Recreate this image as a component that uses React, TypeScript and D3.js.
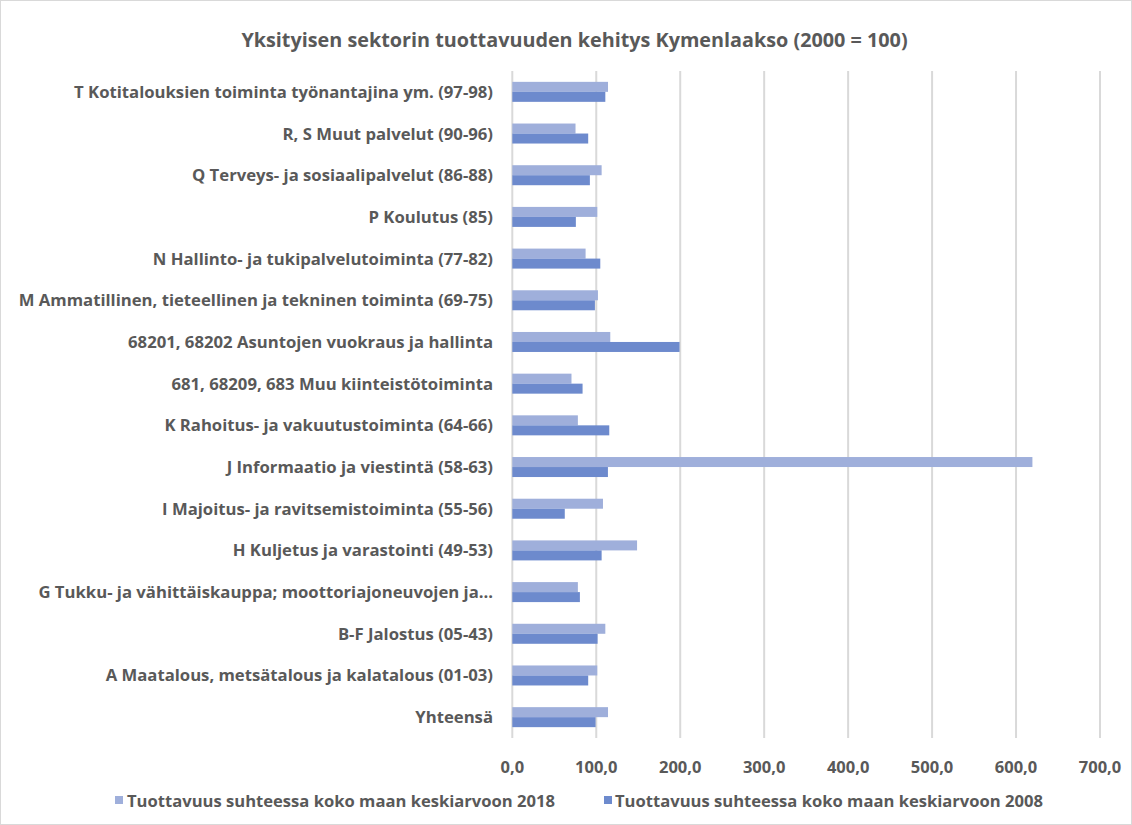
import React from "react";
import * as d3 from "d3";

const categories = [
  "T Kotitalouksien toiminta työnantajina ym. (97-98)",
  "R, S Muut palvelut (90-96)",
  "Q Terveys- ja sosiaalipalvelut (86-88)",
  "P Koulutus (85)",
  "N Hallinto- ja tukipalvelutoiminta (77-82)",
  "M Ammatillinen, tieteellinen ja tekninen toiminta (69-75)",
  "68201, 68202 Asuntojen vuokraus ja hallinta",
  "681, 68209, 683 Muu kiinteistötoiminta",
  "K Rahoitus- ja vakuutustoiminta (64-66)",
  "J Informaatio ja viestintä (58-63)",
  "I Majoitus- ja ravitsemistoiminta (55-56)",
  "H Kuljetus ja varastointi (49-53)",
  "G Tukku- ja vähittäiskauppa; moottoriajoneuvojen ja…",
  "B-F Jalostus (05-43)",
  "A Maatalous, metsätalous ja kalatalous (01-03)",
  "Yhteensä",
];
const values2018 = [114, 75.3, 106.4, 101.2, 87.3, 102, 116.7, 70.5, 78.1, 619.5, 108, 148.6, 78.1, 110.8, 101.2, 114];
const values2008 = [110.8, 90.4, 92.4, 75.7, 104.8, 98.4, 199.2, 83.7, 115.5, 113.9, 62.5, 106.4, 80.5, 101.6, 90.4, 99.2];
const xTicks = [0, 100, 200, 300, 400, 500, 600, 700];
const seriesNames = [
  "Tuottavuus suhteessa koko maan keskiarvoon 2018",
  "Tuottavuus suhteessa koko maan keskiarvoon 2008",
];

const W = 1132, H = 825;
const C2018 = "#9FAFDB";
const C2008 = "#6D8ACD";
const TXT = "#595959";
const FONT = "'Open Sans', 'Liberation Sans', Arial, sans-serif";

export default function App() {
  const x = d3.scaleLinear().domain([0, 700]).range([512.3, 1100]);
  const y = d3.scaleBand<string>().domain(categories).range([71, 738]);
  const barH = 10;
  const fmt = (v: number) => v.toFixed(1).replace(".", ",");
  return (
    <svg width={W} height={H} style={{ position: "absolute", left: 0, top: 0, background: "#fff" }} fontFamily={FONT}>
      <rect x={0.5} y={0.5} width={W - 1} height={H - 1} fill="#fff" stroke="#d9d9d9" />
      <text x={574.5} y={47} textAnchor="middle" fontSize={19.8} fontWeight="bold" fill={TXT}>
        Yksityisen sektorin tuottavuuden kehitys Kymenlaakso (2000 = 100)
      </text>
      {xTicks.map((t) => (
        <g key={t}>
          <line x1={x(t)} x2={x(t)} y1={71} y2={738} stroke="#d9d9d9" strokeWidth={2} />
          <text x={x(t)} y={773} textAnchor="middle" fontSize={16.5} fontWeight="bold" fill={TXT}>
            {fmt(t)}
          </text>
        </g>
      ))}
      {categories.map((c, i) => {
        const cy = (y(c) as number) + y.bandwidth() / 2;
        return (
          <g key={c}>
            <rect x={x(0)} y={cy - barH} width={x(values2018[i]) - x(0)} height={barH} fill={C2018} />
            <rect x={x(0)} y={cy} width={x(values2008[i]) - x(0)} height={barH} fill={C2008} />
            <text x={493} y={cy + 6} textAnchor="end" fontSize={16.7} fontWeight="bold" fill={TXT}>
              {c}
            </text>
          </g>
        );
      })}
      <rect x={115} y={796} width={8} height={8} fill={C2018} />
      <text x={127} y={807} fontSize={16} fontWeight="bold" fill={TXT} textLength={428} lengthAdjust="spacingAndGlyphs">
        {seriesNames[0]}
      </text>
      <rect x={604} y={796} width={8} height={8} fill={C2008} />
      <text x={615} y={807} fontSize={16} fontWeight="bold" fill={TXT} textLength={428} lengthAdjust="spacingAndGlyphs">
        {seriesNames[1]}
      </text>
    </svg>
  );
}
